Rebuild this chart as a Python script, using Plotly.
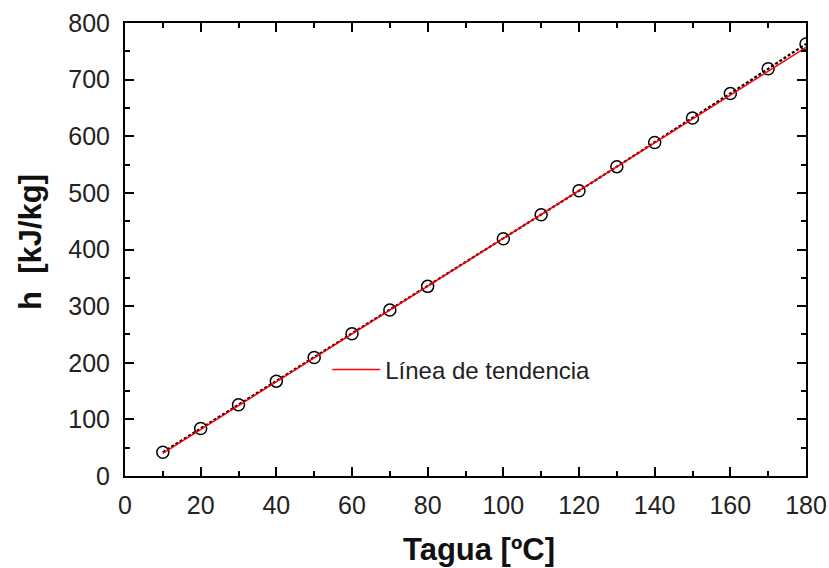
import plotly.graph_objects as go

# Data
temps = [10, 20, 30, 40, 50, 60, 70, 80, 100, 110, 120, 130, 140, 150, 160, 170, 180]
enthalpy = [42.0, 83.9, 125.7, 167.5, 209.3, 251.1, 293.0, 334.9, 419.1, 461.3,
            503.7, 546.3, 589.1, 632.2, 675.5, 719.1, 763.0]
trend_x = [10, 180]
trend_y = [40, 757]

x_ticks = [0, 20, 40, 60, 80, 100, 120, 140, 160, 180]
y_ticks = [0, 100, 200, 300, 400, 500, 600, 700, 800]

x_title = "Tagua [ºC]"
y_title = "h  [kJ/kg]"
legend_label = "Línea de tendencia"

FONT = "Liberation Sans, Arial, sans-serif"

fig = go.Figure()
fig.add_trace(go.Scatter(
    x=temps, y=enthalpy, mode="lines+markers",
    line=dict(color="black", width=2.2, dash="3px,2px"),
    marker=dict(symbol="circle-open", size=12, color="black", line=dict(width=1.5)),
    showlegend=False,
))
fig.add_trace(go.Scatter(
    x=trend_x, y=trend_y, mode="lines",
    line=dict(color="#ff0000", width=1.5),
    name=legend_label,
))

axis_common = dict(
    showline=True, linecolor="black", linewidth=2, mirror="allticks",
    ticks="inside", ticklen=9, tickwidth=2, tickcolor="black",
    showgrid=False, zeroline=False, automargin=False,
    tickfont=dict(family=FONT, size=25, color="#222"),
)

fig.update_xaxes(
    range=[0, 180], tickvals=x_ticks, ticktext=[str(v) for v in x_ticks],
    minor=dict(ticks="inside", ticklen=5, tickwidth=2, tickcolor="black", dtick=10),
    ticklabelstandoff=6,
    **axis_common,
)
fig.update_yaxes(
    range=[0, 800], tickvals=y_ticks, ticktext=[str(v) for v in y_ticks],
    minor=dict(ticks="inside", ticklen=5, tickwidth=2, tickcolor="black", dtick=50),
    ticklabelstandoff=8,
    **axis_common,
)

title_font = dict(family=FONT, size=31, color="#111", weight="bold")
fig.add_annotation(text=x_title, xref="paper", yref="paper", x=0.52, y=-0.163,
                   xanchor="center", yanchor="middle", showarrow=False, font=title_font)
fig.add_annotation(text=y_title, xref="paper", yref="paper", x=-0.138, y=0.5166,
                   xanchor="center", yanchor="middle", showarrow=False, textangle=-90,
                   font=title_font)

fig.update_layout(
    width=829, height=568,
    margin=dict(l=125, r=23, t=23, b=92),
    plot_bgcolor="white", paper_bgcolor="white",
    legend=dict(x=0.297, y=0.234, xanchor="left", yanchor="middle",
                bgcolor="rgba(0,0,0,0)", itemwidth=48,
                font=dict(family=FONT, size=24, color="#222")),
)

fig.write_html("out.html")
